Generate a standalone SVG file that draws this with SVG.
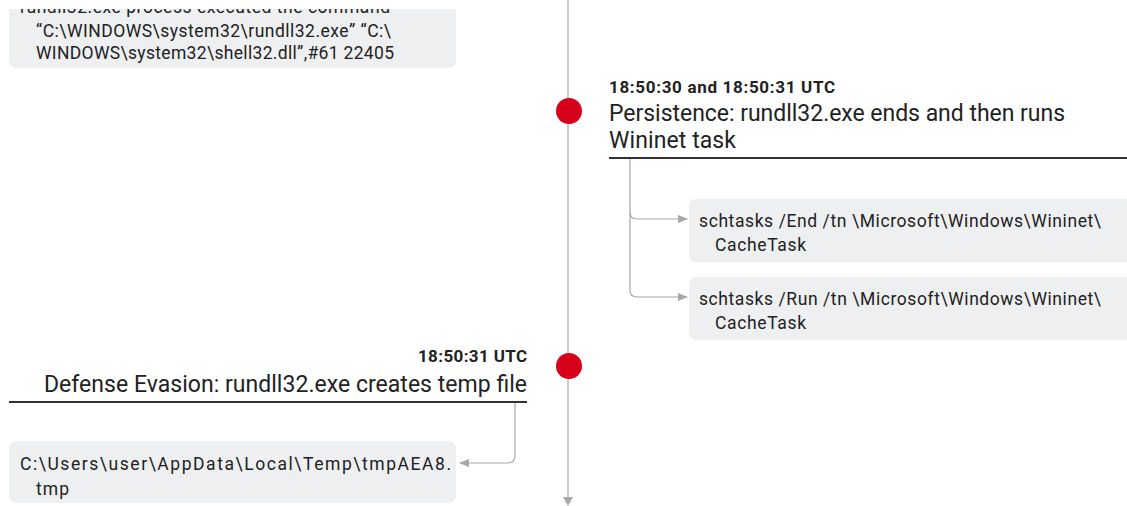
<svg xmlns="http://www.w3.org/2000/svg" width="1127" height="506" viewBox="0 0 1127 506">
<defs>
<style>
.t{font-family:Roboto,"Liberation Sans",sans-serif;fill:#222}
.box{fill:#eeeff1}
.cmd{font-size:17.5px}
.time{font-size:17px;font-weight:bold}
.title{font-size:23px}
.conn{fill:none;stroke:#a6a8ab;stroke-width:1.2}
.rule{stroke:#333;stroke-width:2}
.dot{fill:#d7001b}
</style>
<marker id="ah" markerWidth="10" markerHeight="8" refX="9" refY="4" orient="auto" markerUnits="userSpaceOnUse">
<path d="M0,0 L10,4 L0,8 Z" fill="#a6a8ab"/>
</marker>
<clipPath id="topclip"><rect x="0" y="9" width="1127" height="497"/></clipPath>
</defs>
<rect width="1127" height="506" fill="#fff"/>
<g id="timeline">
<line x1="568" y1="0" x2="568" y2="498" stroke="#c9cacc" stroke-width="2"/>
<path d="M563,497 L573,497 L568,506 Z" fill="#a6a8ab"/>
</g>
<g id="connectors">
<path class="conn" d="M630,159 V212 Q630,219 637,219 H687" marker-end="url(#ah)"/>
<path class="conn" d="M630,212 V290 Q630,297 637,297 H687" marker-end="url(#ah)"/>
<path class="conn" d="M515,403 V456 Q515,463 508,463 H460" marker-end="url(#ah)"/>
</g>
<g id="node-top-command" clip-path="url(#topclip)">
<rect class="box" x="9" y="-20" width="447" height="88" rx="7"/>
<text class="t cmd" x="20" y="13" textLength="370" lengthAdjust="spacing">rundll32.exe process executed the command</text>
<text class="t cmd" x="36" y="37" textLength="355" lengthAdjust="spacing">“C:\WINDOWS\system32\rundll32.exe” “C:\</text>
<text class="t cmd" x="36" y="59" textLength="358" lengthAdjust="spacing">WINDOWS\system32\shell32.dll”,#61 22405</text>
</g>
<g id="node-persistence">
<circle class="dot" cx="569" cy="111" r="13"/>
<text class="t time" x="609" y="93" textLength="226" lengthAdjust="spacing">18:50:30 and 18:50:31 UTC</text>
<text class="t title" x="609" y="121" textLength="456" lengthAdjust="spacing">Persistence: rundll32.exe ends and then runs</text>
<text class="t title" x="609" y="148" textLength="127" lengthAdjust="spacing">Wininet task</text>
<line class="rule" x1="609" y1="158" x2="1127" y2="158"/>
</g>
<g id="node-schtasks-end">
<rect class="box" x="689" y="199" width="450" height="63" rx="7"/>
<text class="t cmd" x="699" y="227" textLength="402" lengthAdjust="spacing">schtasks /End /tn \Microsoft\Windows\Wininet\</text>
<text class="t cmd" x="715" y="251" textLength="91" lengthAdjust="spacing">CacheTask</text>
</g>
<g id="node-schtasks-run">
<rect class="box" x="689" y="277" width="450" height="63" rx="7"/>
<text class="t cmd" x="699" y="305" textLength="402" lengthAdjust="spacing">schtasks /Run /tn \Microsoft\Windows\Wininet\</text>
<text class="t cmd" x="715" y="329" textLength="91" lengthAdjust="spacing">CacheTask</text>
</g>
<g id="node-defense-evasion">
<circle class="dot" cx="569" cy="366" r="13"/>
<text class="t time" x="418" y="362" textLength="109" lengthAdjust="spacing">18:50:31 UTC</text>
<text class="t title" x="44" y="392" textLength="483" lengthAdjust="spacing">Defense Evasion: rundll32.exe creates temp file</text>
<line class="rule" x1="9" y1="402" x2="527" y2="402"/>
</g>
<g id="node-temp-file">
<rect class="box" x="9" y="441" width="447" height="62" rx="7"/>
<text class="t cmd" x="20" y="470" textLength="431" lengthAdjust="spacing">C:\Users\user\AppData\Local\Temp\tmpAEA8.</text>
<text class="t cmd" x="36" y="495" textLength="33" lengthAdjust="spacing">tmp</text>
</g>
</svg>
